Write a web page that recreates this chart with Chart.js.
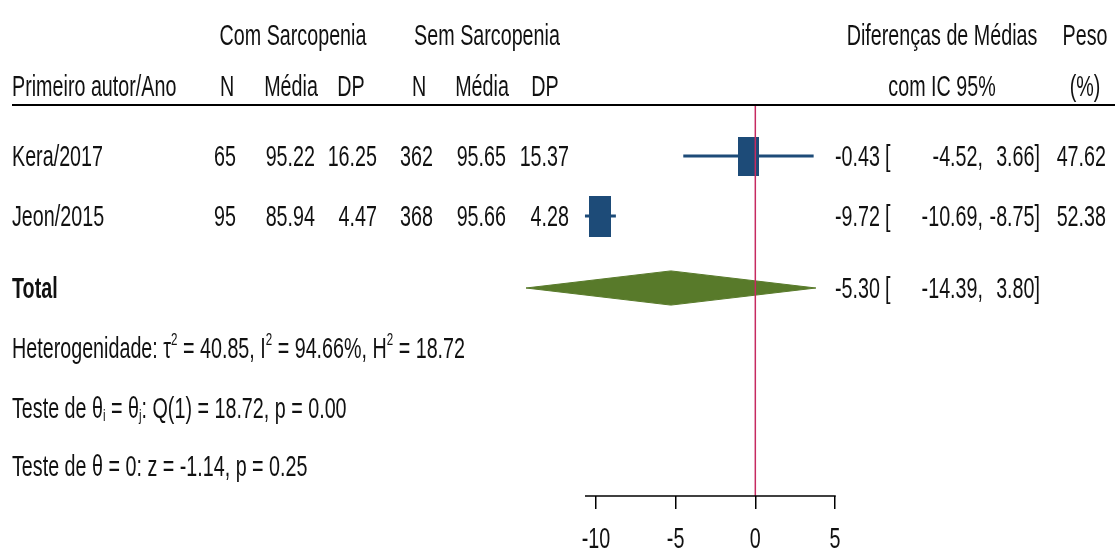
<!DOCTYPE html>
<html>
<head>
<meta charset="utf-8">
<script src="https://cdn.jsdelivr.net/npm/chart.js@4.4.1/dist/chart.umd.min.js"></script>
<style>
  html, body { margin: 0; padding: 0; background: #fff; overflow: hidden; }
  #wrap { width: 1115px; height: 551px; position: relative; }
</style>
</head>
<body>
<div id="wrap"><canvas id="c" width="1115" height="551"></canvas></div>
<script>
// Study rows
const studies  = ['Kera/2017', 'Jeon/2015'];
const nCom     = [65, 95];
const meanCom  = [95.22, 85.94];
const sdCom    = [16.25, 4.47];
const nSem     = [362, 368];
const meanSem  = [95.65, 95.66];
const sdSem    = [15.37, 4.28];
const diff     = [-0.43, -9.72];
const ciLow    = [-4.52, -10.69];
const ciHigh   = [3.66, -8.75];
const weight   = [47.62, 52.38];

// Pooled estimate: [estimate, lower, upper]
const pooled   = [-5.30, -14.39, 3.80];

// Heterogeneity and tests
const tau2 = 40.85, iSq = 94.66, hSq = 18.72;
const qStat = 18.72, qDf = 1, qP = 0.00;
const zStat = -1.14, zP = 0.25;

// Axis ticks
const xTicks = [-10, -5, 0, 5];

const BLUE  = '#1d4b78';
const GREEN = '#587a2a';
const RED   = '#c62a60';
const INK   = '#111111';
const FONT  = '"Liberation Sans", Arial, Helvetica, sans-serif';
const SX    = 0.68;   // condensed lettering
const FS    = 29;

const rows = studies.map((_, i) => i + 1);
const totalRow = studies.length + 1.2;
const yMin = 1 / 6, yMax = 6 + 2 / 3;
const diamondHalf = 0.285;

const f2 = v => v.toFixed(2);

// box marker whose area follows the study weight
function boxFor(w) {
  const c = document.createElement('canvas');
  c.width = Math.round(3.04 * Math.sqrt(w));
  c.height = Math.round(5.65 * Math.sqrt(w));
  const g = c.getContext('2d');
  g.fillStyle = BLUE;
  g.fillRect(0, 0, c.width, c.height);
  return c;
}

function txt(ctx, s, x, y, align, size, bold) {
  ctx.save();
  ctx.font = (bold ? 'bold ' : '') + (size || FS) + 'px ' + FONT;
  ctx.fillStyle = INK;
  ctx.textAlign = align || 'left';
  ctx.textBaseline = 'alphabetic';
  ctx.translate(x, y);
  ctx.scale(SX, 1);
  ctx.fillText(s, 0, 0);
  ctx.restore();
}

// runs of text with sub/superscripts: [text, size, dy]
function runs(ctx, x, y, parts) {
  let cx = x;
  for (const [s, size, dy] of parts) {
    ctx.save();
    ctx.font = size + 'px ' + FONT;
    ctx.fillStyle = INK;
    ctx.textAlign = 'left';
    ctx.textBaseline = 'alphabetic';
    const w = ctx.measureText(s).width * SX;
    ctx.translate(cx, y + dy);
    ctx.scale(SX, 1);
    ctx.fillText(s, 0, 0);
    ctx.restore();
    cx += w;
  }
}

const tablePlugin = {
  id: 'forestTable',
  afterDraw(chart) {
    const ctx = chart.ctx;
    const ys = chart.scales.y, xs = chart.scales.x;

    // header rule
    ctx.save();
    ctx.fillStyle = '#000';
    ctx.fillRect(12, 104, 1103, 2);

    // axis line, from the lowest study bound to the last tick
    const axY = xs.top;
    ctx.strokeStyle = '#000';
    ctx.lineWidth = 1.5;
    ctx.beginPath();
    ctx.moveTo(xs.getPixelForValue(Math.min(...ciLow)), axY);
    ctx.lineTo(xs.getPixelForValue(xTicks[xTicks.length - 1]) + 0.75, axY);
    ctx.stroke();
    ctx.restore();

    // headers
    const hy1 = 45, hy2 = 96;
    txt(ctx, 'Com Sarcopenia', 293, hy1, 'center');
    txt(ctx, 'Sem Sarcopenia', 487, hy1, 'center');
    txt(ctx, 'Diferenças de Médias', 942, hy1, 'center');
    txt(ctx, 'Peso', 1085, hy1, 'center');
    txt(ctx, 'Primeiro autor/Ano', 12, hy2, 'left');
    txt(ctx, 'N', 227, hy2, 'center');
    txt(ctx, 'Média', 291, hy2, 'center');
    txt(ctx, 'DP', 351, hy2, 'center');
    txt(ctx, 'N', 419, hy2, 'center');
    txt(ctx, 'Média', 482, hy2, 'center');
    txt(ctx, 'DP', 545, hy2, 'center');
    txt(ctx, 'com IC 95%', 942, hy2, 'center');
    txt(ctx, '(%)', 1085, hy2, 'center');

    // study rows
    studies.forEach((s, i) => {
      const b = ys.getPixelForValue(rows[i]) + 10;
      txt(ctx, s, 12, b, 'left');
      txt(ctx, String(nCom[i]), 236, b, 'right');
      txt(ctx, f2(meanCom[i]), 315, b, 'right');
      txt(ctx, f2(sdCom[i]), 377, b, 'right');
      txt(ctx, String(nSem[i]), 433, b, 'right');
      txt(ctx, f2(meanSem[i]), 506, b, 'right');
      txt(ctx, f2(sdSem[i]), 569, b, 'right');
      txt(ctx, f2(diff[i]), 880, b, 'right');
      txt(ctx, '[', 885, b, 'left');
      txt(ctx, f2(ciLow[i]) + ',', 983, b, 'right');
      txt(ctx, f2(ciHigh[i]) + ']', 1040, b, 'right');
      txt(ctx, f2(weight[i]), 1106, b, 'right');
    });

    // pooled row
    const bt = ys.getPixelForValue(totalRow) + 10;
    txt(ctx, 'Total', 12, bt, 'left', FS, true);
    txt(ctx, f2(pooled[0]), 880, bt, 'right');
    txt(ctx, '[', 885, bt, 'left');
    txt(ctx, f2(pooled[1]) + ',', 983, bt, 'right');
    txt(ctx, f2(pooled[2]) + ']', 1040, bt, 'right');

    // heterogeneity and tests
    const sup = [17, -13], sub = [17, 3];
    runs(ctx, 12, bt + 60, [
      ['Heterogenidade: τ', FS, 0], ['2', ...sup],
      [' = ' + f2(tau2) + ', I', FS, 0], ['2', ...sup],
      [' = ' + f2(iSq) + '%, H', FS, 0], ['2', ...sup],
      [' = ' + f2(hSq), FS, 0]
    ]);
    runs(ctx, 12, bt + 120, [
      ['Teste de θ', FS, 0], ['i', ...sub],
      [' = θ', FS, 0], ['j', ...sub],
      [': Q(' + qDf + ') = ' + f2(qStat) + ', p = ' + f2(qP), FS, 0]
    ]);
    runs(ctx, 12, bt + 178, [
      ['Teste de θ = 0: z = ' + f2(zStat) + ', p = ' + f2(zP), FS, 0]
    ]);

    // x tick labels
    xs.ticks.forEach(t => {
      txt(ctx, String(t.value), xs.getPixelForValue(t.value), 548, 'center');
    });
  }
};

const datasets = [];

// confidence intervals
studies.forEach((s, i) => {
  datasets.push({
    type: 'line',
    label: s,
    data: [{ x: ciLow[i], y: rows[i] }, { x: ciHigh[i], y: rows[i] }],
    borderColor: BLUE,
    borderWidth: 3,
    pointRadius: 0,
    fill: false,
    clip: false,
    order: 3
  });
});

// weighted boxes
datasets.push({
  type: 'scatter',
  label: 'estimates',
  data: studies.map((_, i) => ({ x: diff[i], y: rows[i] })),
  pointStyle: weight.map(boxFor),
  clip: false,
  order: 2
});

// pooled diamond
datasets.push({
  type: 'line',
  label: 'Total',
  data: [
    { x: pooled[1], y: totalRow },
    { x: pooled[0], y: totalRow - diamondHalf },
    { x: pooled[2], y: totalRow },
    { x: pooled[0], y: totalRow + diamondHalf },
    { x: pooled[1], y: totalRow }
  ],
  borderColor: GREEN,
  backgroundColor: GREEN,
  borderWidth: 1,
  pointRadius: 0,
  tension: 0,
  fill: 'shape',
  clip: false,
  order: 3
});

// line of no effect
datasets.push({
  type: 'line',
  label: 'zero',
  data: [{ x: 0, y: yMin }, { x: 0, y: yMax }],
  borderColor: RED,
  borderWidth: 1.5,
  pointRadius: 0,
  fill: false,
  clip: false,
  order: 0
});

new Chart(document.getElementById('c'), {
  type: 'scatter',
  data: { datasets },
  options: {
    responsive: false,
    animation: false,
    events: [],
    layout: { padding: { left: 526, right: 280, top: 106, bottom: 0 } },
    plugins: { legend: { display: false }, tooltip: { enabled: false } },
    scales: {
      x: {
        type: 'linear',
        min: Math.min(pooled[1], ...ciLow),
        max: xTicks[xTicks.length - 1],
        afterBuildTicks: s => { s.ticks = xTicks.map(v => ({ value: v })); },
        afterFit: s => { s.height = 55; },
        grid: { drawOnChartArea: false, drawTicks: true, tickLength: 13, color: '#000', lineWidth: 1.5 },
        border: { display: false },
        ticks: { display: false }
      },
      y: {
        type: 'linear',
        display: false,
        reverse: true,
        min: yMin,
        max: yMax
      }
    }
  },
  plugins: [tablePlugin]
});
</script>
</body>
</html>
